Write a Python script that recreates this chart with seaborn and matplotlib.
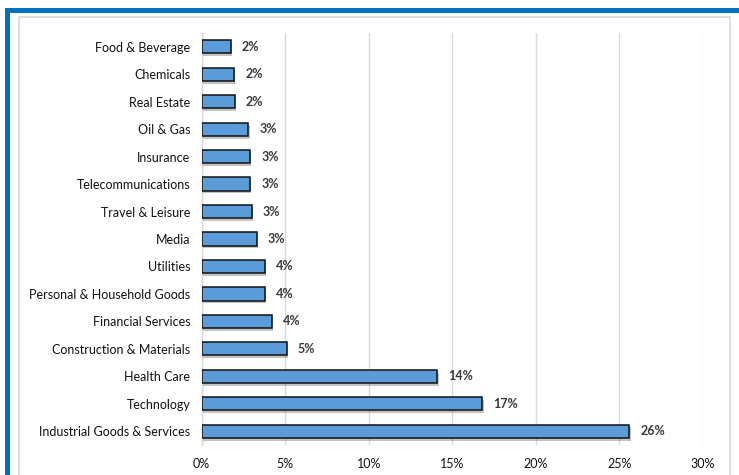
import matplotlib
matplotlib.use("Agg")
import matplotlib.pyplot as plt
import matplotlib.patheffects as pe
from matplotlib.patches import Rectangle
import seaborn as sns
import pandas as pd

sectors = [
    "Food & Beverage", "Chemicals", "Real Estate", "Oil & Gas", "Insurance",
    "Telecommunications", "Travel & Leisure", "Media", "Utilities",
    "Personal & Household Goods", "Financial Services", "Construction & Materials",
    "Health Care", "Technology", "Industrial Goods & Services",
]
shares = [1.75, 1.95, 2.0, 2.8, 2.9, 2.9, 3.0, 3.3, 3.8, 3.8, 4.2, 5.1, 14.1, 16.8, 25.6]
x_ticks = [0, 5, 10, 15, 20, 25, 30]
x_tick_labels = ["0%", "5%", "10%", "15%", "20%", "25%", "30%"]

df = pd.DataFrame({"sector": sectors, "share": shares})

sns.set_theme(style="white")
plt.rcParams["font.family"] = ["Lato", "DejaVu Sans"]

fig = plt.figure(figsize=(7.39, 4.75), dpi=100)
W, H = 739, 475

# Page frame: blue band on top and left, thin grey chart border inside
fig.patches.append(Rectangle((5 / W, 0), 5 / W, (H - 8) / H, transform=fig.transFigure,
                             facecolor="#0070c0", edgecolor="none", zorder=0))
fig.patches.append(Rectangle((5 / W, (H - 12.5) / H), (W - 5) / W, 4.5 / H,
                             transform=fig.transFigure, facecolor="#0070c0",
                             edgecolor="none", zorder=0))
fig.patches.append(Rectangle((19 / W, -0.01), (730 - 19) / W, (H - 17) / H + 0.01,
                             transform=fig.transFigure, facecolor="none",
                             edgecolor="#d9d9d9", linewidth=1.2, zorder=0))

ax = fig.add_axes([201.5 / W, (H - 445) / H, (703 - 201.5) / W, (445 - 33) / H])

sns.barplot(data=df, x="share", y="sector", orient="h", ax=ax, width=0.48,
            color="#5b9bd8", edgecolor="#111111", linewidth=1.1, saturation=1)

for bar in ax.patches:
    bar.set_path_effects([pe.SimplePatchShadow(offset=(1, -2), shadow_rgbFace="#555555",
                                               alpha=0.35), pe.Normal()])
    bar.set_zorder(3)

ax.bar_label(ax.containers[0], labels=[f"{v:.0f}%" for v in shares], padding=8,
             fontsize=9, fontweight="bold", color="#3a3a3a")

ax.set_xlim(0, 30)
ax.set_ylim(len(sectors) - 0.5, -0.5)
ax.set_xticks(x_ticks)
ax.set_xticklabels(x_tick_labels)
ax.xaxis.grid(True, color="#d9d9d9", linewidth=1)
ax.set_axisbelow(True)
ax.set_xlabel("")
ax.set_ylabel("")
ax.tick_params(axis="both", length=0, labelsize=9, colors="#111111")
ax.tick_params(axis="x", pad=9)
ax.tick_params(axis="y", pad=8)
for side in ["top", "right", "bottom"]:
    ax.spines[side].set_visible(False)
ax.spines["left"].set_color("#d9d9d9")
ax.spines["left"].set_linewidth(1)

fig.savefig("out.png", dpi=100)
